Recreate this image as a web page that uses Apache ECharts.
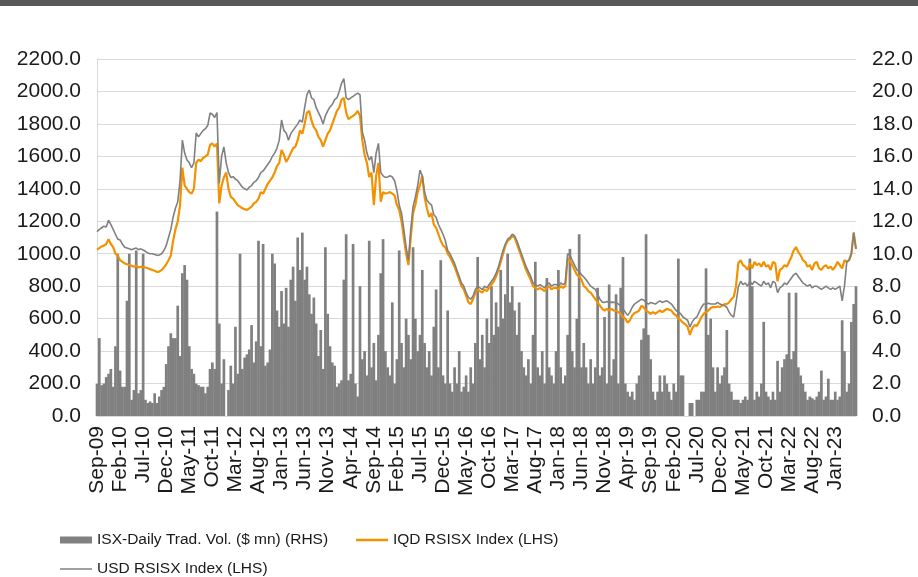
<!DOCTYPE html>
<html>
<head>
<meta charset="utf-8">
<script src="https://cdn.jsdelivr.net/npm/echarts@6/dist/echarts.min.js"></script>
<style>html,body{margin:0;padding:0;background:#fff;}#c{width:918px;height:577px;}</style>
</head>
<body>
<div id="c"></div>
<script>
// Semi-monthly observations, Sep-2009 .. May-2023
const startYear = 2009, startMonth = 8, nPoints = 330;
const monthNames = ['Jan','Feb','Mar','Apr','May','Jun','Jul','Aug','Sep','Oct','Nov','Dec'];
const categories = [];
for (let i = 0; i < nPoints; i++) {
  const m = startMonth + Math.floor(i / 2);
  const y = startYear + Math.floor(m / 12);
  categories.push(monthNames[m % 12] + '-' + String(y % 100).padStart(2, '0') + (i % 2 ? ' H2' : ' H1'));
}

const iqdIndex = [
1025,1035,1045,1050,1060,1090,1060,1040,1000,990,960,950,940,935,930,925,920,925,915,920,
918,915,910,905,900,895,888,890,900,915,935,960,990,1080,1150,1200,1300,1530,1420,1400,
1380,1370,1400,1560,1580,1570,1590,1600,1610,1670,1680,1660,1680,1310,1420,1470,1500,1400,1350,1340,
1320,1300,1290,1280,1275,1270,1280,1290,1310,1320,1340,1380,1370,1400,1430,1450,1470,1500,1540,1560,
1640,1610,1565,1590,1620,1650,1660,1700,1760,1740,1800,1870,1880,1820,1780,1760,1720,1700,1660,1700,
1740,1760,1800,1840,1880,1900,1950,1960,1870,1830,1840,1850,1860,1880,1850,1700,1610,1560,1473,1500,
1300,1480,1560,1320,1380,1370,1374,1380,1370,1360,1300,1270,1200,1100,1000,930,1100,1250,1300,1380,
1423,1480,1350,1280,1226,1250,1180,1160,1120,1080,1050,1040,1000,980,950,920,880,840,800,780,
740,700,690,720,760,780,770,760,780,770,790,810,830,860,900,950,1000,1050,1080,1090,
1110,1100,1060,1020,980,940,900,870,840,800,790,780,790,780,770,790,800,780,790,790,
780,800,790,800,970,960,930,900,870,860,840,800,790,770,760,740,720,700,680,660,
650,660,650,660,650,648,640,630,610,600,575,590,620,635,640,650,680,670,650,640,
630,640,630,640,650,640,650,660,655,650,630,620,600,590,575,565,550,500,540,560,
555,580,610,630,640,650,665,672,670,675,672,680,690,690,700,720,733,800,943,960,
930,920,900,940,910,950,930,940,920,950,920,930,900,950,940,830,900,910,930,920,
950,980,1020,1041,1010,990,960,950,920,930,900,940,950,910,900,920,930,910,920,900,
920,950,930,910,960,950,960,1000,1130,1030
];

const usdIndex = [
1135,1150,1160,1170,1165,1207,1180,1150,1120,1090,1085,1060,1040,1035,1030,1025,1030,1035,1025,1030,
1023,1015,1005,1000,1000,995,990,992,1000,1020,1050,1100,1150,1226,1280,1320,1450,1700,1620,1577,
1560,1530,1560,1744,1720,1740,1760,1770,1790,1867,1860,1840,1870,1435,1600,1658,1560,1500,1470,1475,
1460,1450,1430,1410,1400,1393,1410,1420,1440,1450,1470,1500,1510,1530,1550,1570,1600,1620,1650,1700,
1824,1760,1744,1700,1740,1760,1780,1800,1824,1810,1900,1980,2009,1960,1950,1900,1870,1840,1800,1850,
1880,1905,1920,1950,1960,2000,2050,2080,1960,1950,1960,1970,1980,1990,1980,1750,1700,1620,1577,1600,
1500,1620,1680,1500,1480,1470,1473,1480,1473,1450,1390,1300,1250,1150,1040,960,1150,1290,1350,1420,
1515,1480,1380,1330,1312,1300,1240,1225,1180,1150,1120,1080,1020,1000,970,940,900,860,820,800,
760,730,720,740,780,800,790,780,800,790,810,830,850,880,920,970,1020,1060,1090,1100,
1120,1110,1080,1040,1000,960,920,890,860,820,810,800,810,800,790,810,820,800,810,810,
800,820,810,820,1000,990,960,930,900,890,870,857,840,820,800,790,780,750,720,702,
700,705,700,702,700,700,690,680,660,640,620,640,670,690,700,710,720,715,700,690,
700,695,690,700,710,700,705,710,700,690,670,650,640,630,610,600,590,548,580,600,
610,640,670,690,690,695,690,690,690,700,690,685,680,670,640,620,610,700,795,830,
810,820,800,830,810,830,820,810,800,830,810,820,790,830,820,760,790,800,820,810,
830,850,870,880,860,840,820,810,800,810,790,800,800,790,780,790,800,790,780,790,
780,790,800,710,800,950,960,1000,1130,1030
];

const tradeVolume = [
2.0,4.8,1.9,2.0,2.4,2.6,2.9,1.8,4.3,10.0,2.8,1.8,1.8,7.1,10.0,1.0,1.6,10.2,1.4,1.6,
10.0,1.0,0.8,0.9,0.8,1.4,0.8,1.2,1.6,1.8,3.2,4.3,5.1,4.8,4.8,6.8,3.7,8.8,9.3,8.4,
4.3,2.9,2.6,2.0,1.9,1.8,1.8,1.4,1.8,2.9,3.3,2.9,12.6,5.7,2.0,3.5,0,1.6,3.1,2.0,
5.5,2.6,10.0,2.9,3.6,3.8,4.1,5.6,3.3,4.6,10.8,4.3,10.6,3.1,3.3,4.1,10.0,9.4,6.5,5.5,
7.7,5.7,7.9,5.5,8.4,9.2,7.1,11.0,9.0,11.3,8.4,9.2,7.5,6.3,7.3,5.7,3.7,5.3,2.9,10.4,
6.3,4.3,3.3,3.1,1.8,2.0,2.2,8.4,11.2,2.2,2.6,10.6,2.0,1.2,8.0,3.5,4.0,2.5,10.8,3.0,
4.5,2.2,5.0,8.8,10.9,4.0,3.0,2.5,7.0,2.0,3.5,10.2,4.5,3.0,6.0,5.0,3.5,10.4,6.0,4.0,
5.0,9.0,4.5,3.0,4.0,2.5,5.5,7.8,3.0,9.6,2.5,2.0,6.5,2.0,1.5,3.0,2.0,4.0,1.5,1.8,
2.5,1.5,3.0,2.0,4.5,9.8,3.5,5.0,3.0,6.0,4.5,8.0,5.0,7.0,5.5,9.0,6.0,7.5,10.0,7.0,
8.0,6.5,5.0,7.0,4.0,3.0,2.5,3.5,2.0,5.0,9.5,3.0,2.5,4.0,2.0,8.5,3.0,2.5,2.0,4.0,
9.0,3.0,2.0,2.5,5.0,10.3,4.0,3.0,6.0,11.2,3.0,4.5,3.0,2.0,3.5,2.0,3.0,7.9,2.5,3.0,
6.1,2.0,8.1,2.5,3.5,7.5,2.0,7.9,9.8,2.0,1.5,1.2,1.5,1.0,2.0,2.5,4.7,5.4,11.2,5.0,
3.5,1.5,1.0,1.5,2.5,1.5,2.5,2.0,1.5,1.0,2.0,1.5,9.7,2.5,2.5,0,0,0.8,0.8,0,
1.0,1.0,1.5,1.5,9.1,5.0,6.0,3.0,1.5,3.0,2.0,2.5,3.0,5.3,2.0,1.5,1.0,1.0,1.0,0.8,
1.0,1.2,1.0,9.7,8.0,1.0,1.5,1.2,2.0,5.8,1.5,1.2,1.0,1.5,1.0,3.4,1.5,3.0,3.5,3.8,
7.6,3.5,4.0,7.6,3.0,2.5,2.0,1.5,1.0,1.2,1.1,1.0,1.2,1.5,2.8,1.0,1.2,2.3,1.0,1.0,
1.5,1.0,1.2,5.9,4.0,1.5,2.0,5.8,6.9,8.0
];

const seriesNames = ['ISX-Daily Trad. Vol. ($ mn) (RHS)', 'IQD RSISX Index (LHS)', 'USD RSISX Index (LHS)'];

const chart = echarts.init(document.getElementById('c'), null, {renderer: 'canvas'});
const labelFont = {fontFamily: "'Liberation Sans', Arial, sans-serif", fontSize: 21, color: '#1a1a1a'};
const legendFont = {fontFamily: "'Liberation Sans', Arial, sans-serif", fontSize: 15.5, color: '#1a1a1a'};

chart.setOption({
  animation: false,
  backgroundColor: '#ffffff',
  graphic: [{type: 'rect', left: 0, top: 0, shape: {width: 918, height: 6}, style: {fill: '#595959'}}],
  grid: {left: 97, right: 62, top: 59, bottom: 161},
  legend: [
    {data: [{name: seriesNames[0], icon: 'rect'}], left: 60, top: 532, padding: 0, itemWidth: 32, itemHeight: 7, textStyle: legendFont, selectedMode: false},
    {data: [{name: seriesNames[1], icon: 'rect'}], left: 356, top: 532, padding: 0, itemWidth: 32, itemHeight: 2.5, textStyle: legendFont, selectedMode: false},
    {data: [{name: seriesNames[2], icon: 'rect'}], left: 60, top: 561, padding: 0, itemWidth: 32, itemHeight: 1.5, textStyle: legendFont, selectedMode: false}
  ],
  xAxis: {
    type: 'category', data: categories, boundaryGap: false,
    axisLine: {lineStyle: {color: '#d9d9d9'}},
    axisTick: {show: false},
    axisLabel: Object.assign({rotate: 90, interval: 9, margin: 10, formatter: v => v.slice(0, 6)}, labelFont)
  },
  yAxis: [
    {type: 'value', min: 0, max: 2200, interval: 200,
     axisLine: {show: true, lineStyle: {color: '#d9d9d9'}}, axisTick: {show: false},
     splitLine: {lineStyle: {color: '#d9d9d9'}},
     axisLabel: Object.assign({margin: 16, formatter: v => v.toFixed(1)}, labelFont)},
    {type: 'value', min: 0, max: 22, interval: 2,
     axisLine: {show: false}, axisTick: {show: false}, splitLine: {show: false},
     axisLabel: Object.assign({margin: 16, formatter: v => v.toFixed(1)}, labelFont)}
  ],
  series: [
    {name: seriesNames[0], type: 'bar', yAxisIndex: 1, data: tradeVolume, barWidth: 2.7, itemStyle: {color: '#808080'}},
    {name: seriesNames[1], type: 'line', yAxisIndex: 0, data: iqdIndex, symbol: 'none', lineStyle: {color: '#f39200', width: 2.2}, itemStyle: {color: '#f39200'}},
    {name: seriesNames[2], type: 'line', yAxisIndex: 0, data: usdIndex, symbol: 'none', lineStyle: {color: '#808080', width: 1.6}, itemStyle: {color: '#808080'}}
  ]
});
</script>
</body>
</html>
